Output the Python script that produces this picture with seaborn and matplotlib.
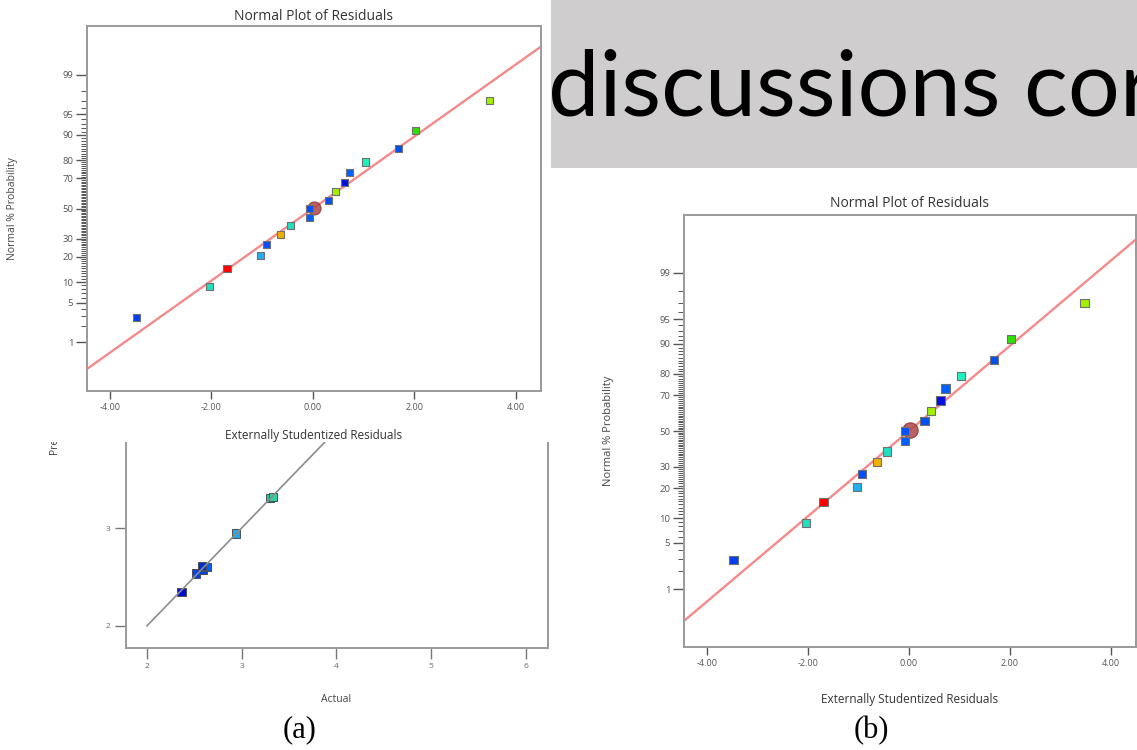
import numpy as np
import pandas as pd
import seaborn as sns
import matplotlib.pyplot as plt
from matplotlib.patches import Rectangle
from statistics import NormalDist

# normal plot of residuals (same data in panel a-top and panel b)
resid = [-3.47, -2.03, -1.69, -1.03, -0.92, -0.63, -0.43, -0.07, -0.07,
         0.31, 0.44, 0.63, 0.73, 1.04, 1.69, 2.03, 3.48]
prob = [2.9, 8.8, 14.7, 20.5, 26.4, 32.3, 38.2, 44.0, 50.0,
        55.8, 61.6, 67.4, 73.4, 79.1, 85.3, 91.2, 97.0]
pt_colors = ['#0040f0', '#20e0c0', '#ff0000', '#20b0f0', '#0050ff', '#f0b000',
             '#20e0c0', '#0060ff', '#0050ff', '#0050f0', '#a0f000', '#0010e0',
             '#0060ff', '#20f0c0', '#0050f0', '#30e000', '#a0f000']
# fitted reference line end points
fit_resid = [-4.45, 4.5]
fit_prob = [0.26, 99.76]
# highlighted point
hl_resid = [0.03]
hl_prob = [50.5]

prob_major = [1, 5, 10, 20, 30, 50, 70, 80, 90, 95, 99]
prob_minor = list(range(1, 100))
resid_ticks = [-4, -2, 0, 2, 4]
resid_labels = ['-4.00', '-2.00', '0.00', '2.00', '4.00']

# predicted vs actual (panel a-bottom)
actual = [2.365, 2.516, 2.59, 2.63, 2.58, 2.94, 3.30, 3.33]
predicted = [2.348, 2.536, 2.57, 2.60, 2.61, 2.946, 3.31, 3.32]
pa_colors = ['#0010d0', '#0040f0', '#0040e0', '#0060f0', '#0030d0',
             '#20a8e8', '#20c8a0', '#30d0a0']
diag = [2, 6]

slide_text = 'discussions cor'

sns.set_style('white')
plt.rcParams['font.family'] = ['Open Sans', 'DejaVu Sans']

W, H = 1137, 750
fig = plt.figure(figsize=(W / 100, H / 100), dpi=100)
renderer = fig.canvas.get_renderer()


def box(l, t, r, b):
    return [l / W, 1 - b / H, (r - l) / W, (b - t) / H]


_nd = NormalDist()
_inv = np.vectorize(_nd.inv_cdf, otypes=[float])
_cdf = np.vectorize(_nd.cdf, otypes=[float])


def to_probit(p):
    p = np.clip(np.asarray(p, dtype=float) / 100.0, 1e-7, 1 - 1e-7)
    return _inv(p)


def from_probit(z):
    return _cdf(np.asarray(z, dtype=float)) * 100.0


SPINE = '#9a9a9a'
TICKC = '#555555'


def frame(ax):
    for s in ax.spines.values():
        s.set_visible(True)
        s.set_color(SPINE)
        s.set_linewidth(1.4)


def normal_plot(ax, msize, title_pad, xlab_y, ylab_x, fs_lab):
    ax.set_yscale('function', functions=(to_probit, from_probit))
    ax.plot(fit_resid, fit_prob, color='#f58a8a', lw=1.7, zorder=2)
    ax.scatter(hl_resid, hl_prob, s=msize * 3.4, color='#b04848', alpha=0.85,
               edgecolor='#8a3030', lw=0.8, zorder=3)
    df = pd.DataFrame({'resid': resid, 'prob': prob, 'c': pt_colors})
    sns.scatterplot(data=df, x='resid', y='prob', hue='c',
                    palette={c: c for c in pt_colors}, marker='s', s=msize,
                    edgecolor='#707070', linewidth=0.8, legend=False, ax=ax,
                    zorder=4)
    ax.set_xlim(-4.45, 4.5)
    ax.set_ylim(0.074, 99.926)
    ax.set_yticks(prob_major)
    ax.set_yticks(prob_minor, minor=True)
    ax.set_yticklabels([str(v) for v in prob_major])
    ax.set_xticks(resid_ticks)
    ax.set_xticklabels(resid_labels)
    ax.tick_params(axis='y', which='major', direction='out', length=8, width=1,
                   color=TICKC, labelsize=6.8, labelcolor=TICKC, pad=2, left=True)
    ax.tick_params(axis='y', which='minor', direction='out', length=4, width=0.7,
                   color=TICKC, left=True)
    ax.tick_params(axis='x', which='major', direction='out', length=6, width=1,
                   color=TICKC, labelsize=6.5, labelcolor=TICKC, pad=3, bottom=True)
    ax.tick_params(axis='x', which='minor', bottom=False)
    frame(ax)
    ax.set_title('Normal Plot of Residuals', fontsize=10, color='#333333',
                 pad=title_pad)
    ax.set_xlabel('Externally Studentized Residuals', fontsize=8.5, color='#333333')
    ax.xaxis.set_label_coords(0.5, xlab_y)
    ax.xaxis.label.set_va('center')
    ax.set_ylabel('Normal % Probability', fontsize=fs_lab, color='#444444')
    ax.yaxis.set_label_coords(ylab_x, 0.5)
    ax.yaxis.label.set_va('center')


# grey slide box with big text (lowest layer)
fig.patches.append(Rectangle((551 / W, 1 - 168 / H), 1 - 551 / W + 0.01, 168 / H,
                             transform=fig.transFigure, facecolor='#d0cdcf',
                             edgecolor='none', zorder=-2))
# fit the slide text so that "iscussions co" spans about 521 px
big_font = ['Lato', 'DejaVu Sans']
probe = fig.text(0, 0, 'iscussions co', fontsize=100, family=big_font)
w_body = probe.get_window_extent(renderer).width
probe.remove()
big_size = 100 * 521 / w_body
probe = fig.text(0, 0, 'd', fontsize=big_size, family=big_font)
w_d = probe.get_window_extent(renderer).width
probe.remove()
fig.text((604 - w_d - 4) / W, 1 - 115 / H, slide_text, fontsize=big_size,
         family=big_font, color='black', ha='left', va='baseline', zorder=-1)

# predicted vs actual, partly hidden below the top-left panel
ax_pa = fig.add_axes(box(126, 212, 547.5, 648), zorder=0)
pa = pd.DataFrame({'actual': actual, 'predicted': predicted, 'c': pa_colors})
sns.scatterplot(data=pa, x='actual', y='predicted', hue='c',
                palette={c: c for c in pa_colors}, marker='s', s=36,
                edgecolor='#505050', linewidth=0.7, legend=False, ax=ax_pa,
                zorder=2)
ax_pa.plot(diag, diag, color='#8c8c8c', lw=1.2, zorder=3)
ax_pa.set_xlim(1.78, 6.23)
ax_pa.set_ylim(1.775, 6.23)
ax_pa.set_xticks([2, 3, 4, 5, 6])
ax_pa.set_yticks([2, 3, 4, 5, 6])
ax_pa.tick_params(direction='out', length=8, width=1, color='#777777',
                  labelsize=6, labelcolor='#666666', pad=3, left=True,
                  bottom=True)
frame(ax_pa)
ax_pa.set_xlabel('Actual', fontsize=7.5, color='#444444')
ax_pa.xaxis.set_label_coords(0.498, -51 / 436)
ax_pa.xaxis.label.set_va('center')
ax_pa.set_ylabel('Predicted', fontsize=7.5, color='#444444')
ax_pa.yaxis.set_label_coords((55 - 126) / 421.5, 0.497)
ax_pa.yaxis.label.set_va('center')

# white panel of the top-left screenshot covering the plot below
fig.patches.append(Rectangle((0, 1 - 442 / H), 551 / W, 442 / H,
                             transform=fig.transFigure, facecolor='white',
                             edgecolor='none', zorder=0.5))

ax_top = fig.add_axes(box(87, 26, 541, 391), zorder=1)
normal_plot(ax_top, msize=26, title_pad=4, xlab_y=-44 / 365,
            ylab_x=(12.5 - 87) / 454, fs_lab=7.5)

ax_b = fig.add_axes(box(684, 215, 1136, 647), zorder=1)
normal_plot(ax_b, msize=36, title_pad=6, xlab_y=-53 / 432,
            ylab_x=(609 - 684) / 452, fs_lab=8)

fig.text(300 / W, 1 - 730 / H, '(a)', fontsize=22, family='Liberation Serif',
         ha='center', va='center', color='black')
fig.text(871 / W, 1 - 731 / H, '(b)', fontsize=22, family='Liberation Serif',
         ha='center', va='center', color='black')

fig.savefig('out.png', dpi=100)
